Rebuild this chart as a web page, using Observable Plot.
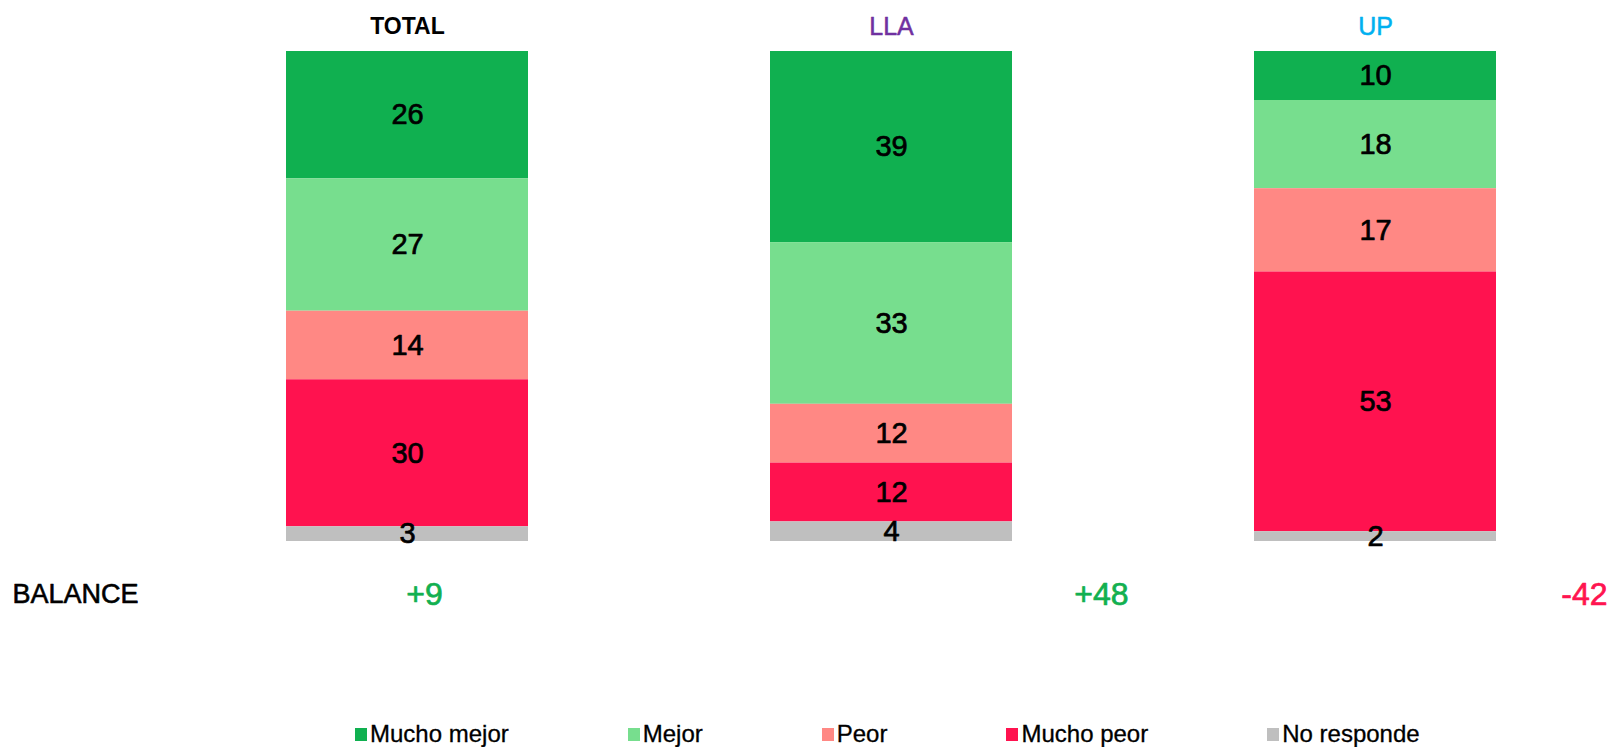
<!DOCTYPE html>
<html>
<head>
<meta charset="utf-8">
<script src="https://cdn.jsdelivr.net/npm/d3@7"></script>
<script src="https://cdn.jsdelivr.net/npm/@observablehq/plot@0.6"></script>
<style>
  html, body { margin: 0; padding: 0; background: #fff; }
  body { width: 1610px; height: 747px; position: relative; overflow: hidden; font-family: "Liberation Sans", Arial, sans-serif; }
  #chart svg { display: block; }
  #legend { position: absolute; left: 355px; top: 721px; display: flex; gap: 119px; font-size: 24px; line-height: 26px; color: #000; -webkit-text-stroke: 0.3px #000; }
  #legend .item { display: flex; align-items: center; white-space: nowrap; }
  #legend .sw { width: 12px; height: 13px; margin-right: 3px; display: inline-block; }
</style>
</head>
<body>
<div id="chart"></div>
<div id="legend"></div>
<script>
const groups = ["TOTAL", "LLA", "UP"];
const groupColors = ["#000000", "#7030A0", "#00B0F0"];
const categories = ["Mucho mejor", "Mejor", "Peor", "Mucho peor", "No responde"];
const categoryColors = ["#10B050", "#77DE8E", "#FF8884", "#FF124F", "#BFBFBF"];
const totalValues = [26, 27, 14, 30, 3];
const llaValues = [39, 33, 12, 12, 4];
const upValues = [10, 18, 17, 53, 2];
const balanceLabel = "BALANCE";
const balances = ["+9", "+48", "-42"];
const balanceColors = ["#12B050", "#12B050", "#FF1450"];

const seriesByGroup = [totalValues, llaValues, upValues];
const rows = [];
groups.forEach((g, gi) => {
  categories.forEach((c, ci) => {
    rows.push({group: g, category: c, value: seriesByGroup[gi][ci]});
  });
});
const titles = groups.map((g, i) => ({group: g, color: groupColors[i], bold: i === 0}));
const bal = groups.map((g, i) => ({group: g, text: balances[i], color: balanceColors[i]}));

const W = 1610, H = 716;
const font = '"Liberation Sans", Arial, sans-serif';

const chart = Plot.plot({
  width: W,
  height: H,
  marginLeft: 285,
  marginRight: 113,
  marginTop: 51,
  marginBottom: 175,
  style: {fontFamily: font, background: "#fff"},
  x: {domain: groups, paddingInner: 0.5, paddingOuter: 0, axis: null},
  y: {domain: [0, 100], reverse: true, axis: null},
  color: {domain: categories, range: categoryColors},
  marks: [
    Plot.barY(rows, Plot.stackY({x: "group", y: "value", z: "category", fill: "category", order: null})),
    Plot.text(rows, Plot.stackY({x: "group", y: "value", z: "category", order: null, text: d => String(d.value), fontSize: 29, fill: "#000", stroke: "#000", strokeWidth: 0.7})),
    Plot.text(titles.filter(d => d.bold), {x: "group", text: "group", fill: "color", frameAnchor: "top", lineAnchor: "middle", dy: -25, fontSize: 23, fontWeight: "bold"}),
    Plot.text(titles.filter(d => !d.bold), {x: "group", text: "group", fill: "color", stroke: "color", strokeWidth: 0.5, frameAnchor: "top", lineAnchor: "middle", dy: -25, fontSize: 25}),
    Plot.text([balanceLabel], {text: d => d, frameAnchor: "bottom-left", lineAnchor: "middle", textAnchor: "start", dx: -273, dy: 53, fontSize: 27, fill: "#000", stroke: "#000", strokeWidth: 0.6}),
    Plot.text(bal.slice(0, 1), {x: "group", text: "text", fill: "color", stroke: "color", strokeWidth: 0.7, frameAnchor: "bottom", lineAnchor: "middle", dx: 17, dy: 53, fontSize: 32}),
    Plot.text(bal.slice(1, 2), {x: "group", text: "text", fill: "color", stroke: "color", strokeWidth: 0.7, frameAnchor: "bottom", lineAnchor: "middle", dx: 210, dy: 53, fontSize: 32}),
    Plot.text(bal.slice(2, 3), {x: "group", text: "text", fill: "color", stroke: "color", strokeWidth: 0.7, frameAnchor: "bottom", lineAnchor: "middle", textAnchor: "end", dx: 232, dy: 53, fontSize: 32})
  ]
});
document.getElementById("chart").appendChild(chart);

const legend = document.getElementById("legend");
categories.forEach((c, i) => {
  const item = document.createElement("div");
  item.className = "item";
  const sw = document.createElement("span");
  sw.className = "sw";
  sw.style.background = categoryColors[i];
  item.appendChild(sw);
  item.appendChild(document.createTextNode(c));
  legend.appendChild(item);
});
</script>
</body>
</html>
